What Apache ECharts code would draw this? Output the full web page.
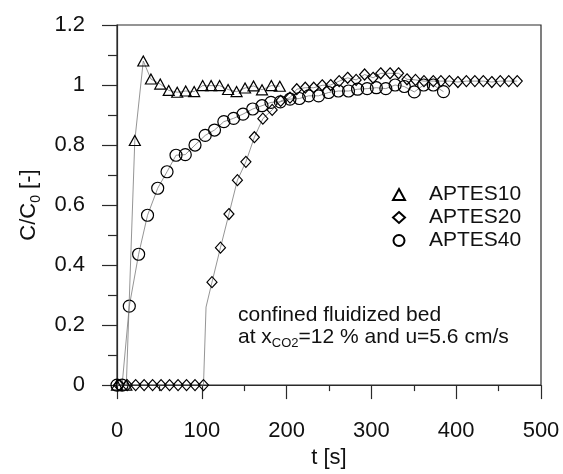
<!DOCTYPE html>
<html>
<head>
<meta charset="utf-8">
<script src="https://cdn.jsdelivr.net/npm/echarts@6/dist/echarts.min.js"></script>
<style>
html,body{margin:0;padding:0;background:#fff;}
#chart{width:563px;height:474px;}
</style>
</head>
<body>
<div id="chart"></div>
<script>
// ---- data ----
var seriesNames = ['APTES10', 'APTES20', 'APTES40'];

var t10 = [0, 11, 21, 31, 40, 51, 61, 71, 81, 91, 101, 111, 121, 131, 141, 151, 161, 171, 182, 192];
var c10 = [0, 0, 0.815, 1.08, 1.02, 1.003, 0.982, 0.976, 0.98, 0.978, 0.998, 0.998, 0.998, 0.985, 0.978, 0.99, 0.997, 0.984, 0.998, 0.996];

var t20 = [2, 12, 22, 32, 42, 52, 62, 72, 82, 92, 102, 112, 122, 132, 142, 152, 162, 172, 183, 193, 204, 212, 222, 232, 242, 252, 262, 272, 282, 292, 302, 311, 322, 332, 342, 352, 362, 373, 382, 392, 402, 412, 422, 432, 442, 452, 462, 472];
var c20 = [0, 0, 0, 0, 0, 0, 0, 0, 0, 0, 0, 0.343, 0.458, 0.57, 0.683, 0.744, 0.826, 0.888, 0.917, 0.947, 0.958, 0.986, 0.991, 0.991, 0.999, 1.0, 1.013, 1.024, 1.017, 1.035, 1.024, 1.039, 1.039, 1.039, 1.019, 1.017, 1.013, 1.013, 1.013, 1.013, 1.01, 1.013, 1.013, 1.013, 1.01, 1.013, 1.013, 1.013];
// unmarked point of the APTES20 trace (steep rise after breakthrough)
var t20Line = [105];
var c20Line = [0.26];

var t40 = [0, 6, 14.5, 25.5, 36, 48, 59, 69.6, 80.5, 92, 104, 115, 126, 137.5, 148.6, 160, 171, 181.6, 192.6, 204, 215, 226, 237.7, 249.5, 261, 273, 283.7, 295, 305.8, 317, 328, 338.8, 350.6, 361.6, 373, 385];
var c40 = [0, 0, 0.263, 0.436, 0.566, 0.656, 0.711, 0.766, 0.768, 0.80, 0.832, 0.85, 0.878, 0.889, 0.903, 0.92, 0.931, 0.942, 0.944, 0.953, 0.955, 0.964, 0.964, 0.975, 0.98, 0.98, 0.986, 0.988, 0.991, 0.988, 1.0, 0.995, 0.977, 1.0, 1.0, 0.978];

var xTicks = [0, 100, 200, 300, 400, 500];
var yTicks = [0, 0.2, 0.4, 0.6, 0.8, 1, 1.2];

// ---- build ----
function pairs(t, c) { return t.map(function (v, i) { return [v, c[i]]; }); }
function withHidden(t, c, th, ch) {
  var pts = pairs(t, c).map(function (p) { return { value: p }; });
  th.forEach(function (v, i) { pts.push({ value: [v, ch[i]], symbol: 'none' }); });
  pts.sort(function (a, b) { return a.value[0] - b.value[0]; });
  return pts;
}

var FONT = 'Liberation Sans, Arial, Helvetica, sans-serif';
var TXT = '#111';
var AX = '#2a2a2a';

var markerStyle = { color: 'rgba(255,255,255,0)', borderColor: '#000', borderWidth: 1.2 };
var lineStyle = { color: '#7a7a7a', width: 0.8 };

var chart = echarts.init(document.getElementById('chart'), null, { renderer: 'canvas' });
chart.setOption({
  animation: false,
  backgroundColor: '#fff',
  grid: { left: 117, right: 22, top: 25, bottom: 85, show: true, borderColor: AX, borderWidth: 1.2, backgroundColor: 'transparent' },
  xAxis: {
    type: 'value', min: xTicks[0], max: xTicks[xTicks.length - 1], interval: xTicks[1] - xTicks[0],
    name: 't [s]', nameLocation: 'middle', nameGap: 59,
    nameTextStyle: { fontFamily: FONT, fontSize: 22, color: TXT },
    axisLine: { onZero: false, lineStyle: { color: AX, width: 1.2 } },
    axisTick: { show: true, inside: false, length: 14, lineStyle: { color: AX, width: 1.2 } },
    minorTick: { show: true, splitNumber: 2, length: 6, lineStyle: { color: AX, width: 1.2 } },
    axisLabel: { fontFamily: FONT, fontSize: 22, color: TXT, margin: 35 },
    splitLine: { show: false }
  },
  yAxis: {
    type: 'value', min: yTicks[0], max: yTicks[yTicks.length - 1], interval: yTicks[1] - yTicks[0],
    name: 'C/C{sub|0} [-]', nameLocation: 'middle', nameGap: 77, nameRotate: 90,
    nameTextStyle: { fontFamily: FONT, fontSize: 22, color: TXT, lineHeight: 22,
      rich: { sub: { fontFamily: FONT, fontSize: 14, color: TXT, verticalAlign: 'top', padding: [11, 0, 0, 0], lineHeight: 14 } } },
    axisLine: { onZero: false, lineStyle: { color: AX, width: 1.2 } },
    axisTick: { show: true, inside: false, length: 15, lineStyle: { color: AX, width: 1.2 } },
    minorTick: { show: true, splitNumber: 2, length: 9, lineStyle: { color: AX, width: 1.2 } },
    axisLabel: { fontFamily: FONT, fontSize: 22, color: TXT, margin: 32 },
    splitLine: { show: false }
  },
  legend: {
    orient: 'vertical', left: 392, top: 184, padding: 0,
    itemWidth: 12, itemHeight: 11, itemGap: 2, symbolKeepAspect: true,
    textStyle: { fontFamily: FONT, fontSize: 21, color: TXT, lineHeight: 21, padding: [0, 0, 0, 19] },
    data: [
      { name: seriesNames[0], icon: 'triangle' },
      { name: seriesNames[1], icon: 'diamond' },
      { name: seriesNames[2], icon: 'circle' }
    ]
  },
  graphic: [{
    type: 'text', left: 238, top: 304, silent: true,
    style: {
      text: 'confined fluidized bed\nat x{sub|CO2}=12 % and u=5.6 cm/s',
      fontFamily: FONT, fontSize: 21, fill: TXT, lineHeight: 22,
      rich: { sub: { fontFamily: FONT, fontSize: 13, fill: TXT, verticalAlign: 'top', padding: [11, 0, 0, 0], lineHeight: 13 } }
    }
  }],
  series: [
    {
      name: seriesNames[0], type: 'line', data: pairs(t10, c10),
      symbol: 'triangle', symbolSize: [11, 10], showAllSymbol: true,
      itemStyle: markerStyle, lineStyle: lineStyle, z: 3
    },
    {
      name: seriesNames[1], type: 'line', data: withHidden(t20, c20, t20Line, c20Line),
      symbol: 'diamond', symbolSize: [10, 11], showAllSymbol: true,
      itemStyle: markerStyle, lineStyle: lineStyle, z: 2
    },
    {
      name: seriesNames[2], type: 'line', data: pairs(t40, c40),
      symbol: 'circle', symbolSize: 12, showAllSymbol: true,
      itemStyle: markerStyle, lineStyle: lineStyle, z: 1
    }
  ]
});
</script>
</body>
</html>
